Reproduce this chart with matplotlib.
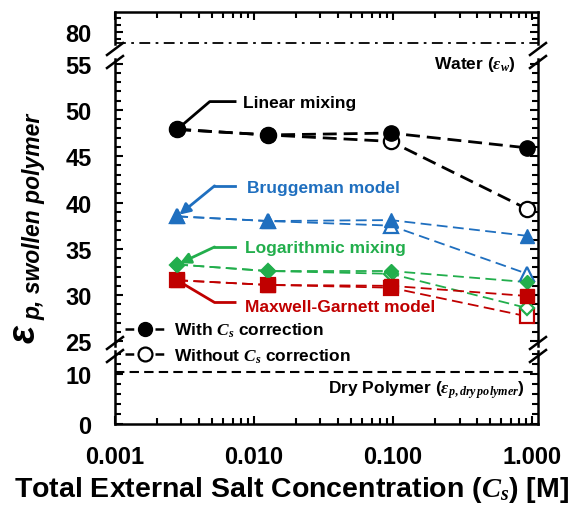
import matplotlib.pyplot as plt
import numpy as np
from matplotlib.lines import Line2D
from matplotlib.ticker import FixedLocator, MultipleLocator, LogLocator, NullFormatter

plt.rcParams['font.family'] = ['Liberation Sans', 'DejaVu Sans']
plt.rcParams['font.weight'] = 'bold'
plt.rcParams['mathtext.fontset'] = 'custom'
plt.rcParams['mathtext.rm'] = 'Liberation Serif'
plt.rcParams['mathtext.it'] = 'Liberation Serif:italic'
plt.rcParams['mathtext.bfit'] = 'Liberation Sans:italic:bold'

# salt concentration (M)
cs = [0.0028, 0.0125, 0.096, 0.92]

# permittivity of swollen polymer, with / without Cs correction
linear_with = [47.9, 47.3, 47.5, 45.9]
linear_without = [47.9, 47.3, 46.6, 39.3]
brugg_with = [38.5, 38.0, 38.1, 36.4]
brugg_without = [38.5, 38.0, 37.5, 32.3]
log_with = [33.3, 32.6, 32.6, 31.4]
log_without = [33.3, 32.6, 32.3, 28.6]
mg_with = [31.6, 31.1, 31.0, 29.9]
mg_without = [31.6, 31.1, 30.8, 27.7]

eps_water = 78.5
eps_dry = 10.5

xticks = [0.001, 0.01, 0.1, 1.0]
xticklabels = ["0.001", "0.010", "0.100", "1.000"]

W_PX, H_PX = 585, 506
fig = plt.figure(figsize=(W_PX / 100, H_PX / 100), dpi=100)

LEFT, RIGHT = 115, 538


def box(top, bot):
    return [LEFT / W_PX, 1 - bot / H_PX, (RIGHT - LEFT) / W_PX, (bot - top) / H_PX]


ax_top = fig.add_axes(box(13, 45))
ax_mid = fig.add_axes(box(60, 347))
ax_bot = fig.add_axes(box(352, 425))
axes = [ax_top, ax_mid, ax_bot]

for ax in axes:
    ax.set_xscale('log')
    ax.set_xlim(0.001, 1.1)
    ax.xaxis.set_major_locator(FixedLocator(xticks))
    ax.xaxis.set_minor_locator(LogLocator(base=10, subs=np.arange(2, 10)))
    ax.xaxis.set_minor_formatter(NullFormatter())
    for s in ax.spines.values():
        s.set_linewidth(1.8)
    ax.tick_params(axis='both', which='both', direction='in', width=1.5,
                   left=True, right=True, labelsize=17, pad=17)
    ax.tick_params(which='major', length=6)
    ax.tick_params(which='minor', length=4)
    ax.tick_params(axis='x', which='both', top=False, bottom=False, labelbottom=False)
    ax.patch.set_alpha(0)

ax_top.spines['bottom'].set_visible(False)
ax_mid.spines['top'].set_visible(False)
ax_mid.spines['bottom'].set_visible(False)
ax_bot.spines['top'].set_visible(False)

ax_top.tick_params(axis='x', which='both', top=True)
ax_bot.tick_params(axis='x', which='both', bottom=True, labelbottom=True, pad=15)
ax_bot.set_xticklabels(xticklabels)

ax_top.set_ylim(78.3, 82.8)
ax_top.yaxis.set_major_locator(FixedLocator([80]))
ax_top.yaxis.set_minor_locator(MultipleLocator(1))
ax_mid.set_ylim(24.5, 55.5)
ax_mid.yaxis.set_major_locator(MultipleLocator(5))
ax_mid.yaxis.set_minor_locator(MultipleLocator(1))
ax_bot.set_ylim(0, 14.6)
ax_bot.yaxis.set_major_locator(FixedLocator([0, 10]))
ax_bot.yaxis.set_minor_locator(MultipleLocator(2))

# reference lines
ax_top.axhline(eps_water, color='k', lw=1.3, ls=(0, (6, 3, 1.5, 3)))
ax_bot.axhline(eps_dry, color='k', lw=1.5, ls=(0, (4.5, 2.5)))
ax_mid.text(0.946, 0.985, r"Water ($\varepsilon_w$)", transform=ax_mid.transAxes,
            ha='right', va='center', fontsize=12.5)
ax_bot.text(0.969, 7.0 / 14.6, r"Dry Polymer ($\varepsilon_{p,dry\,polymer}$)",
            transform=ax_bot.transAxes, ha='right', va='center', fontsize=12.5)

series = [
    ("Linear mixing", linear_with, linear_without, 'black', 'o', 11, 2.0, 3),
    ("Bruggeman model", brugg_with, brugg_without, '#1F6FBF', '^', 10, 1.3, 3),
    ("Logarithmic mixing", log_with, log_without, '#22AE4C', 'D', 7.5, 1.3, 3.2),
    ("Maxwell-Garnett model", mg_with, mg_without, '#C00000', 's', 10, 1.3, 3.1),
]

for name, yw, yo, col, mk, ms, lw, zo in series:
    dash = (0, (5, 2.5)) if lw > 1.5 else (0, (6, 3))
    ax_mid.plot(cs, yo, color=col, lw=lw, ls=dash, zorder=2)
    ax_mid.plot(cs, yw, color=col, lw=lw, ls=dash, zorder=2)
    ax_mid.plot(cs, yo, ls='none', marker=mk, ms=ms, mfc='white', mec=col,
                mew=1.6, zorder=zo)
    ax_mid.plot(cs, yw, ls='none', marker=mk, ms=ms, mfc=col, mec=col, zorder=4)

# leader lines and labels
ax_mid.plot([0.0073, 0.0048, cs[0]], [50.9, 50.9, linear_with[0]], color='black', lw=2, zorder=1)
ax_mid.text(0.0083, 50.8, "Linear mixing", color='black', fontsize=12.5, va='center')

ax_mid.plot([0.0073, 0.0052], [41.8, 41.8], color='#1F6FBF', lw=2)
ax_mid.annotate('', xy=(cs[0], brugg_with[0]), xytext=(0.0052, 41.8),
                arrowprops=dict(arrowstyle='-|>', color='#1F6FBF', lw=2,
                                mutation_scale=16, shrinkA=0, shrinkB=2))
ax_mid.text(0.0089, 41.6, "Bruggeman model", color='#1F6FBF', fontsize=12.5, va='center')

ax_mid.plot([0.0073, 0.0052], [35.2, 35.2], color='#22AE4C', lw=2)
ax_mid.annotate('', xy=(cs[0], log_with[0]), xytext=(0.0052, 35.2),
                arrowprops=dict(arrowstyle='-|>', color='#22AE4C', lw=2,
                                mutation_scale=16, shrinkA=0, shrinkB=2))
ax_mid.text(0.0086, 35.1, "Logarithmic mixing", color='#22AE4C', fontsize=12.5, va='center')

ax_mid.plot([cs[0], 0.0052, 0.0073], [mg_with[0], 29.2, 29.2], color='#C00000', lw=2, zorder=1)
ax_mid.text(0.0086, 28.8, "Maxwell-Garnett model", color='#C00000', fontsize=12.5, va='center')

# break marks
def slash(xp, yp):
    fig.add_artist(Line2D([(xp - 8) / W_PX, (xp + 8) / W_PX],
                          [1 - (yp + 6) / H_PX, 1 - (yp - 6) / H_PX],
                          color='k', lw=1.8, transform=fig.transFigure))


for xp in (LEFT, RIGHT):
    for yp in (50, 63, 344, 357):
        slash(xp, yp)

# legend
handles = [
    Line2D([], [], color='k', lw=1.8, ls=(0, (3.5, 2.5)), marker='o', ms=10, mfc='k', mec='k'),
    Line2D([], [], color='k', lw=1.8, ls=(0, (3.5, 2.5)), marker='o', ms=10, mfc='white', mec='k', mew=1.6),
]
fig.legend(handles, [r"With $C_s$ correction", r"Without $C_s$ correction"],
           loc='upper left', bbox_to_anchor=(125 / W_PX, 1 - 322 / H_PX),
           frameon=False, fontsize=12.5, handlelength=2.3, handletextpad=0.5,
           labelspacing=0.4, borderpad=0, borderaxespad=0)

# axis titles
fig.text(292 / W_PX, 1 - 490 / H_PX, r"Total External Salt Concentration ($C_s$) [M]",
         ha='center', va='center', fontsize=20.5)
fig.text(35 / W_PX, 1 - 344 / H_PX, r"$\mathbfit{\varepsilon}$", rotation=90,
         rotation_mode='anchor', ha='left', va='baseline', fontsize=27)
fig.text(40 / W_PX, 1 - 320 / H_PX, "p, swollen polymer", rotation=90, style='italic',
         rotation_mode='anchor', ha='left', va='baseline', fontsize=16.5)

fig.savefig("out.png", dpi=100)
